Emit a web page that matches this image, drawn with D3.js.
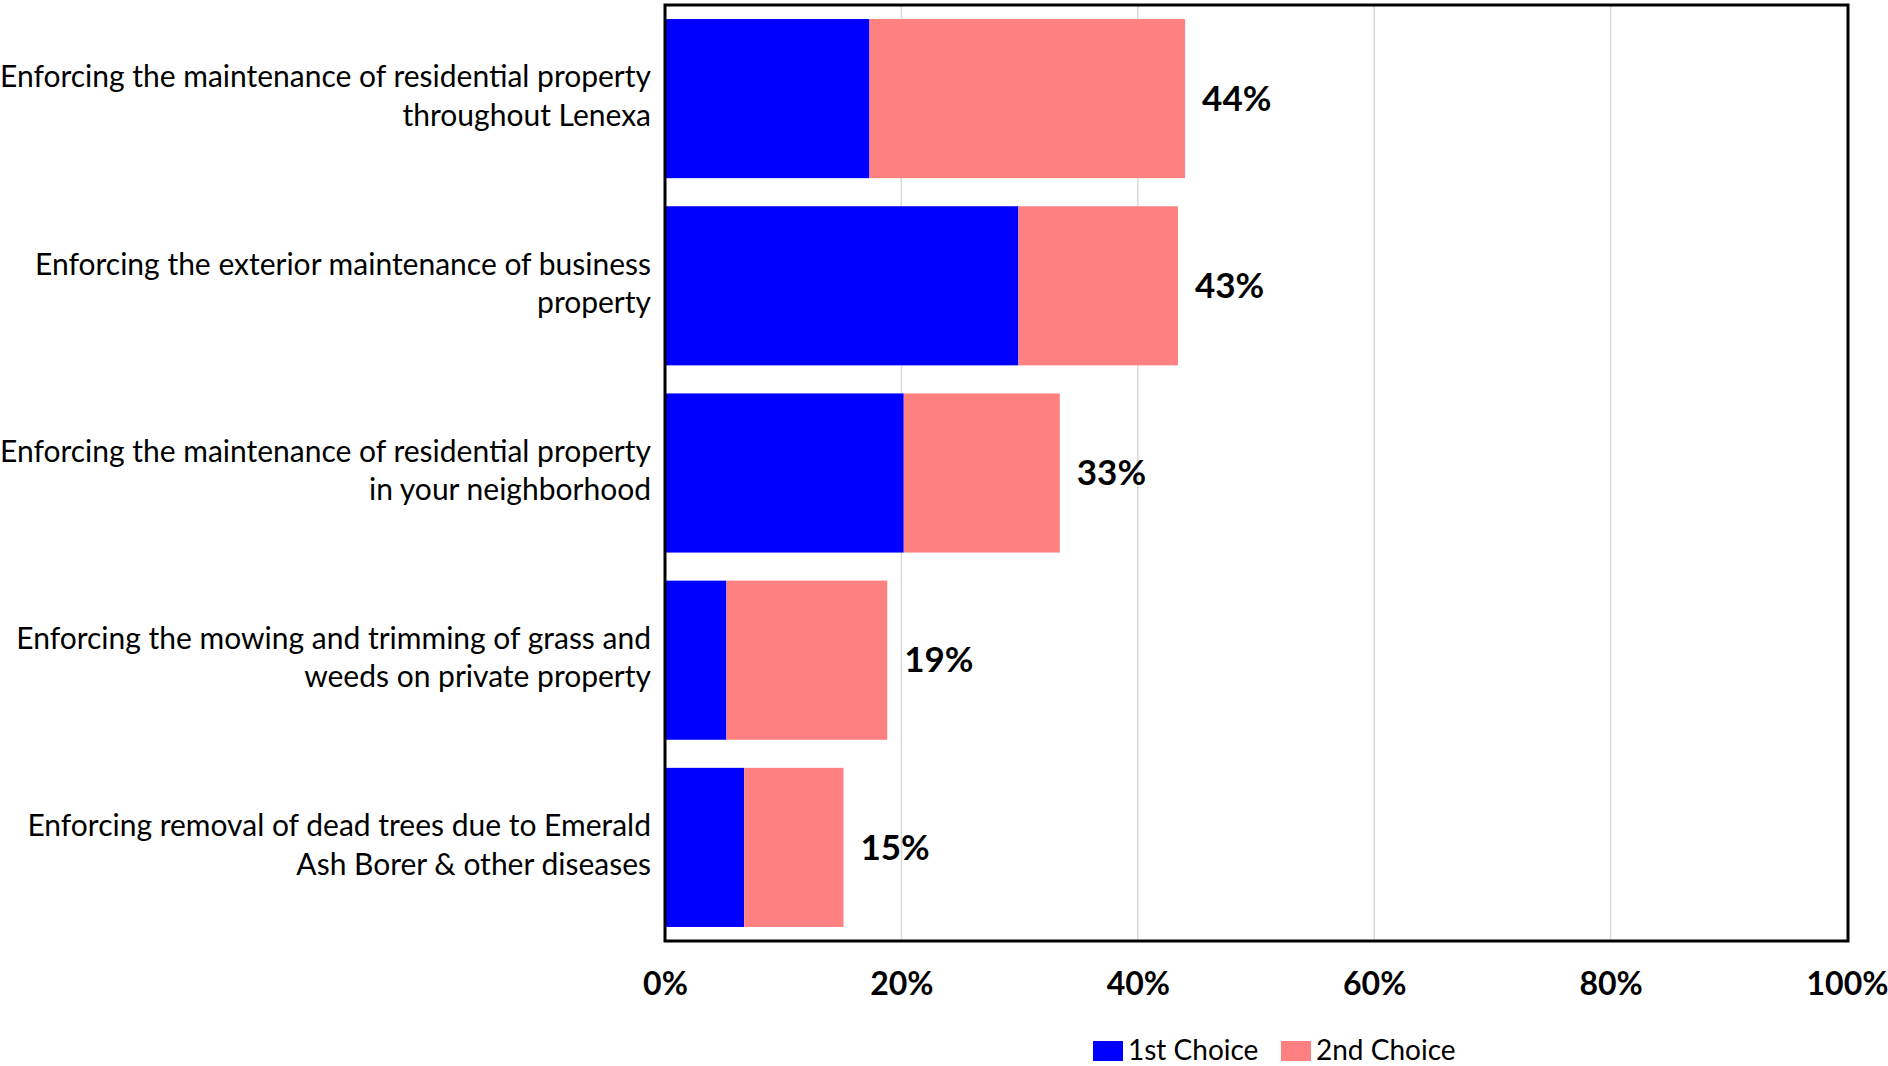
<!DOCTYPE html>
<html>
<head>
<meta charset="utf-8">
<script src="https://cdn.jsdelivr.net/npm/d3@7"></script>
<style>
  html, body { margin: 0; padding: 0; background: #ffffff; }
  svg { display: block; font-family: Lato, "Open Sans", sans-serif; }
</style>
</head>
<body>
<svg id="chart" width="1888" height="1066"></svg>
<script>
// Survey items (line breaks mark where each label wraps)
const categories = [
  "Enforcing the maintenance of residential property\nthroughout Lenexa",
  "Enforcing the exterior maintenance of business\nproperty",
  "Enforcing the maintenance of residential property\nin your neighborhood",
  "Enforcing the mowing and trimming of grass and\nweeds on private property",
  "Enforcing removal of dead trees due to Emerald\nAsh Borer & other diseases"
];
// Share of respondents choosing each item, as percent
const firstChoice  = [17.3, 29.9, 20.2, 5.2, 6.7];
const secondChoice = [26.7, 13.5, 13.2, 13.6, 8.4];
const seriesNames  = ["1st Choice", "2nd Choice"];
const seriesColors = ["#0000FF", "#FF8080"];
const xTicks       = [0, 20, 40, 60, 80, 100];

const svg = d3.select("#chart");
const plot = { left: 665, right: 1847, top: 5, bottom: 941 };

const x = d3.scaleLinear().domain([0, 100]).range([plot.left, plot.right]);
const y = d3.scaleBand().domain(d3.range(categories.length))
  .range([plot.top, plot.bottom]).paddingInner(0.15).paddingOuter(0.075);

const rows = categories.map((c, i) => ({
  label: c, first: firstChoice[i], second: secondChoice[i],
  total: firstChoice[i] + secondChoice[i]
}));

// Vertical gridlines
svg.append("g").selectAll("line").data(xTicks.slice(1, -1)).join("line")
  .attr("x1", d => x(d)).attr("x2", d => x(d))
  .attr("y1", plot.top).attr("y2", plot.bottom)
  .attr("stroke", "#d9d9d9").attr("stroke-width", 1.5);

// Stacked bars
const stack = d3.stack().keys(["first", "second"])(rows);
svg.append("g").selectAll("g").data(stack).join("g")
  .attr("fill", (d, i) => seriesColors[i])
  .selectAll("rect").data(d => d.map((s, i) => ({ s, i }))).join("rect")
  .attr("x", d => x(d.s[0]))
  .attr("width", d => x(d.s[1]) - x(d.s[0]))
  .attr("y", d => y(d.i))
  .attr("height", y.bandwidth());

// Total labels
const pct = d3.format(".0f");
svg.append("g").selectAll("text").data(rows).join("text")
  .attr("x", d => x(d.total) + 17)
  .attr("y", (d, i) => y(i) + y.bandwidth() / 2)
  .attr("dy", "0.35em")
  .attr("font-size", 35).attr("font-weight", 700).attr("fill", "#000")
  .text(d => pct(d.total) + "%");

// Category labels, right-aligned and wrapped
const catG = svg.append("g");
rows.forEach((d, i) => {
  const lines = d.label.split("\n");
  const cy = y(i) + y.bandwidth() / 2 - 2.5;
  const lh = 38.5;
  const t = catG.append("text")
    .attr("text-anchor", "end")
    .attr("font-size", 30).attr("fill", "#000");
  lines.forEach((ln, j) => {
    t.append("tspan")
      .attr("x", plot.left - 14)
      .attr("y", cy + (j - (lines.length - 1) / 2) * lh)
      .attr("dy", "0.35em")
      .text(ln);
  });
});

// X axis tick labels
const xAxis = d3.axisBottom(x).tickValues(xTicks).tickSize(0)
  .tickFormat(d => d + "%");
const gx = svg.append("g").attr("transform", `translate(0,${plot.bottom})`).call(xAxis);
gx.select(".domain").remove();
gx.selectAll("text")
  .attr("y", 43).attr("dy", "0.35em")
  .attr("font-size", 32).attr("font-weight", 700)
  .attr("font-family", "Lato, sans-serif").attr("fill", "#000");

// Plot frame
svg.append("rect")
  .attr("x", plot.left).attr("y", plot.top)
  .attr("width", plot.right - plot.left + 1).attr("height", plot.bottom - plot.top)
  .attr("fill", "none").attr("stroke", "#000").attr("stroke-width", 3);

// Legend
const legend = svg.append("g");
const legendX = [1093, 1281];
seriesNames.forEach((name, i) => {
  legend.append("rect")
    .attr("x", legendX[i]).attr("y", 1041).attr("width", 30).attr("height", 20)
    .attr("fill", seriesColors[i]);
  legend.append("text")
    .attr("x", legendX[i] + 35).attr("y", 1050).attr("dy", "0.35em")
    .attr("font-size", 28).attr("fill", "#000")
    .text(name);
});
</script>
</body>
</html>
